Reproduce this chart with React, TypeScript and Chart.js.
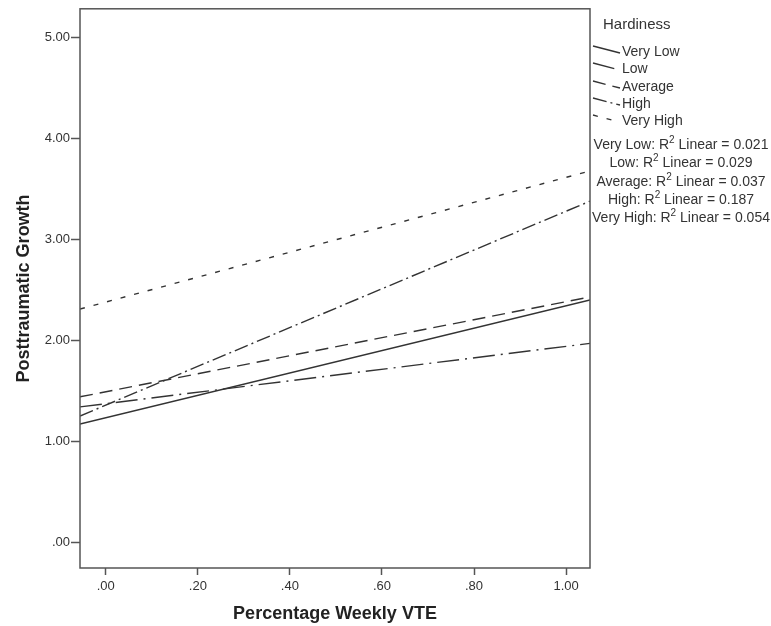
import { useEffect, useRef } from "react";
import { Chart, registerables } from "chart.js";
Chart.register(...registerables);

// ---- data ----
const xRange = [-0.056, 1.052];
const seriesNames = ["Very Low", "Low", "Average", "High", "Very High"];
const startValues = [1.17, 1.34, 1.44, 1.25, 2.31];
const endValues = [2.4, 1.97, 2.43, 3.38, 3.68];
const r2Values = ["0.021", "0.029", "0.037", "0.187", "0.054"];
const yTicks = [0, 1, 2, 3, 4, 5];
const xTicks = [0, 0.2, 0.4, 0.6, 0.8, 1.0];
const yRange = [-0.257, 5.287];

// ---- styles ----
const dashPatterns: number[][] = [[], [22, 6, 2, 6], [13, 7], [14, 4, 2, 4], [5, 9]];
const LINE = "#333333";
const FRAME = "#555555";
const TEXT = "#222222";
const FONT = "'Liberation Sans', Arial, sans-serif";

const fmt = (v: number) => {
  const s = (Math.round(v * 100) / 100).toFixed(2);
  return s.startsWith("0.") ? s.slice(1) : s;
};

const decorPlugin = {
  id: "decor",
  afterDraw(chart: any) {
    const ctx = chart.ctx as CanvasRenderingContext2D;
    const { left, top, right, bottom } = chart.chartArea;
    ctx.save();
    // frame
    ctx.strokeStyle = FRAME;
    ctx.lineWidth = 1.5;
    ctx.setLineDash([]);
    ctx.strokeRect(left, top, right - left, bottom - top);

    // axis titles
    ctx.fillStyle = TEXT;
    ctx.font = `bold 18px ${FONT}`;
    ctx.textAlign = "center";
    ctx.textBaseline = "middle";
    ctx.fillText("Percentage Weekly VTE", (left + right) / 2, 614);
    ctx.save();
    ctx.translate(24, (top + bottom) / 2);
    ctx.rotate(-Math.PI / 2);
    ctx.fillText("Posttraumatic Growth", 0, 0);
    ctx.restore();

    // legend title
    ctx.font = `15px ${FONT}`;
    ctx.textAlign = "left";
    ctx.fillStyle = "#333";
    ctx.fillText("Hardiness", right + 13, 25);

    // legend entries
    const legendY = [52, 69, 87, 104, 121];
    ctx.font = `14px ${FONT}`;
    seriesNames.forEach((name, i) => {
      const yc = legendY[i];
      ctx.strokeStyle = LINE;
      ctx.lineWidth = 1.3;
      ctx.setLineDash(dashPatterns[i]);
      ctx.beginPath();
      ctx.moveTo(right + 3, yc - 6);
      ctx.lineTo(right + 30, yc + 1);
      ctx.stroke();
      ctx.setLineDash([]);
      ctx.fillStyle = "#333";
      ctx.fillText(name, right + 32, yc);
    });

    // R2 lines
    const r2Y = [145, 163, 182, 200, 218];
    const cx = 681;
    seriesNames.forEach((name, i) => {
      const pre = `${name}: R`;
      const sup = "2";
      const post = ` Linear = ${r2Values[i]}`;
      ctx.font = `14px ${FONT}`;
      const w1 = ctx.measureText(pre).width;
      const w3 = ctx.measureText(post).width;
      ctx.font = `10px ${FONT}`;
      const w2 = ctx.measureText(sup).width;
      const total = w1 + w2 + w3;
      let x = cx - total / 2;
      const y = r2Y[i];
      ctx.fillStyle = "#333";
      ctx.textAlign = "left";
      ctx.font = `14px ${FONT}`;
      ctx.fillText(pre, x, y);
      x += w1;
      ctx.font = `10px ${FONT}`;
      ctx.fillText(sup, x, y - 5);
      x += w2;
      ctx.font = `14px ${FONT}`;
      ctx.fillText(post, x, y);
    });
    ctx.restore();
  },
};

export default function App() {
  const ref = useRef<HTMLCanvasElement | null>(null);
  useEffect(() => {
    document.body.style.margin = "0";
    const canvas = ref.current!;
    const chart = new Chart(canvas, {
      type: "line",
      data: {
        datasets: seriesNames.map((name, i) => ({
          label: name,
          data: [
            { x: xRange[0], y: startValues[i] },
            { x: xRange[1], y: endValues[i] },
          ],
          borderColor: LINE,
          borderWidth: 1.4,
          borderDash: dashPatterns[i],
          pointRadius: 0,
          fill: false,
          tension: 0,
        })),
      },
      options: {
        animation: false,
        responsive: false,
        devicePixelRatio: 1,
        layout: { padding: { top: 8, right: 181, left: 0, bottom: 0 } },
        plugins: { legend: { display: false }, tooltip: { enabled: false } },
        scales: {
          x: {
            type: "linear",
            min: xRange[0],
            max: xRange[1],
            afterBuildTicks: (s: any) => {
              s.ticks = xTicks.map((v) => ({ value: v }));
            },
            afterFit: (s: any) => {
              s.height = 58;
            },
            grid: {
              drawOnChartArea: false,
              drawTicks: true,
              tickLength: 7,
              tickColor: FRAME,
              tickWidth: 1.5,
            },
            border: { display: false },
            ticks: {
              padding: 4,
              color: "#333",
              font: { family: FONT, size: 13 },
              maxRotation: 0,
              callback: (v: any) => fmt(Number(v)),
            },
          },
          y: {
            type: "linear",
            min: yRange[0],
            max: yRange[1],
            afterBuildTicks: (s: any) => {
              s.ticks = yTicks.map((v) => ({ value: v }));
            },
            afterFit: (s: any) => {
              s.width = 80;
            },
            grid: {
              drawOnChartArea: false,
              drawTicks: true,
              tickLength: 9,
              tickColor: FRAME,
              tickWidth: 1.5,
            },
            border: { display: false },
            ticks: {
              padding: 1,
              color: "#333",
              font: { family: FONT, size: 13 },
              callback: (v: any) => fmt(Number(v)),
            },
          },
        },
      },
      plugins: [decorPlugin],
    } as any);
    return () => chart.destroy();
  }, []);
  return (
    <div style={{ width: 771, height: 626 }}>
      <canvas ref={ref} width={771} height={626} style={{ display: "block" }} />
    </div>
  );
}
